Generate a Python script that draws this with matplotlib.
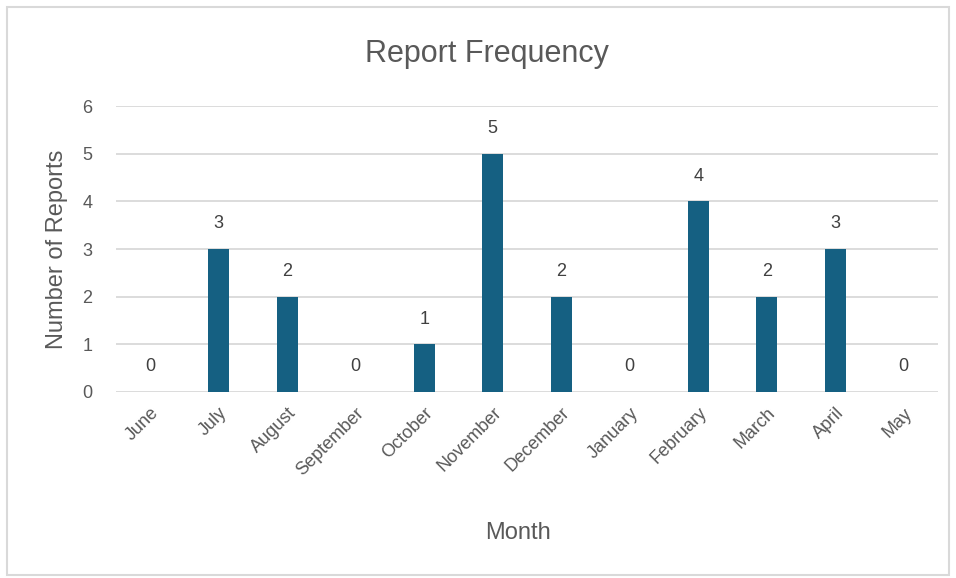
import matplotlib.pyplot as plt
from matplotlib.patches import Rectangle

months = ['June', 'July', 'August', 'September', 'October', 'November',
          'December', 'January', 'February', 'March', 'April', 'May']
reports = [0, 3, 2, 0, 1, 5, 2, 0, 4, 2, 3, 0]

plt.rcParams['font.family'] = ['Liberation Sans', 'DejaVu Sans']
txt = '#595959'

fig = plt.figure(figsize=(9.56, 5.78), dpi=100)
ax = fig.add_axes([0.1213, 0.3218, 0.8598, 0.4948])

x = range(len(months))
ax.bar(x, reports, width=0.31, color='#156082', zorder=3)
for i, v in zip(x, reports):
    ax.annotate(str(v), (i, v), xytext=(0, 12), textcoords='offset points',
                ha='center', va='bottom', fontsize=13, color='#404040')

ax.set_xlim(-0.5, len(months) - 0.5)
ax.set_ylim(0, 6)
ax.set_yticks(range(7))
ax.grid(axis='y', color='#d9d9d9', linewidth=1.3, zorder=0)
for s in ax.spines.values():
    s.set_visible(False)
ax.tick_params(length=0, labelsize=13, colors=txt)
ax.tick_params(axis='y', pad=17)
ax.set_xticks(list(x))
ax.set_xticklabels(months, rotation=45, ha='right', rotation_mode='anchor')
ax.tick_params(axis='x', pad=9)

fig.text(0.5418, 1 - 533 / 578, 'Month', ha='center', va='center',
         fontsize=17, color=txt)
fig.text(57 / 956, 1 - 249 / 578, 'Number of Reports', ha='center',
         va='center', rotation=90, fontsize=17, color=txt)
fig.text(0.509, 0.907, 'Report Frequency', ha='center', va='center',
         fontsize=22, color=txt)

fig.patches.append(Rectangle((7 / 956, 3 / 578), 942 / 956, 568 / 578,
                             transform=fig.transFigure, fill=False,
                             edgecolor='#d9d9d9', linewidth=1.5))

fig.savefig('out.png', dpi=100)
